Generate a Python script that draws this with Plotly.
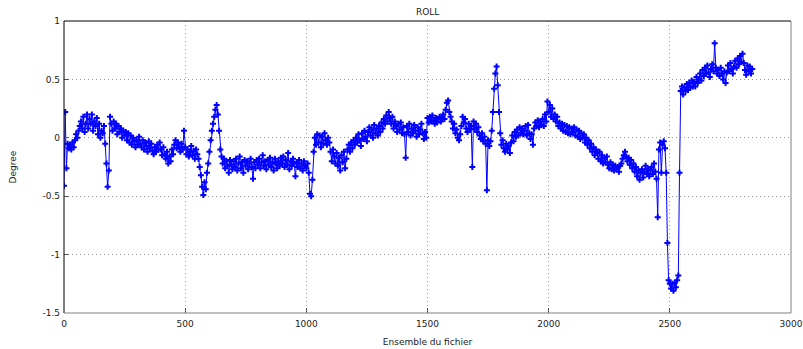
import plotly.graph_objects as go

# Roll (degrees), one value every 5 ensembles, starting at ensemble 0
roll_0000 = [-0.41, 0.22, -0.26, -0.05, -0.09, -0.06, -0.10, -0.04, -0.08, -0.02, 0.03, 0.00, 0.06, 0.10, 0.14, 0.08, 0.18, 0.05, 0.12, 0.20]
roll_0100 = [0.08, 0.16, 0.12, 0.20, 0.06, 0.14, 0.10, 0.17, 0.03, 0.12, 0.00, 0.06, 0.04, 0.10, -0.05, -0.22, -0.42, -0.28, 0.18, 0.12]
roll_0200 = [0.06, 0.14, 0.08, 0.12, 0.03, 0.10, 0.05, 0.08, 0.00, 0.06, 0.02, 0.05, -0.02, 0.04, -0.04, 0.02, -0.06, 0.00, -0.03, -0.08]
roll_0300 = [-0.02, -0.06, 0.01, -0.05, -0.08, -0.02, -0.10, -0.04, -0.07, -0.12, -0.03, -0.09, -0.05, -0.11, -0.14, -0.08, -0.12, -0.06, -0.10, -0.04]
roll_0400 = [-0.10, -0.15, -0.08, -0.14, -0.18, -0.12, -0.22, -0.16, -0.20, -0.10, -0.14, -0.06, -0.02, -0.09, -0.04, -0.08, -0.12, -0.05, -0.10, 0.06]
roll_0500 = [-0.08, -0.14, -0.10, -0.16, -0.12, -0.07, -0.15, -0.11, -0.18, -0.10, -0.14, -0.18, -0.25, -0.32, -0.42, -0.49, -0.38, -0.44, -0.30, -0.22]
roll_0600 = [-0.12, -0.02, 0.06, 0.12, 0.18, 0.24, 0.28, 0.20, 0.06, -0.10, -0.16, -0.22, -0.18, -0.26, -0.20, -0.24, -0.30, -0.19, -0.23, -0.27]
roll_0700 = [-0.20, -0.25, -0.18, -0.28, -0.22, -0.16, -0.26, -0.21, -0.30, -0.19, -0.24, -0.20, -0.27, -0.22, -0.18, -0.25, -0.35, -0.21, -0.26, -0.19]
roll_0800 = [-0.23, -0.18, -0.26, -0.21, -0.15, -0.24, -0.20, -0.27, -0.19, -0.23, -0.17, -0.25, -0.21, -0.28, -0.18, -0.22, -0.26, -0.20, -0.24, -0.17]
roll_0900 = [-0.22, -0.16, -0.25, -0.19, -0.23, -0.13, -0.27, -0.20, -0.24, -0.18, -0.22, -0.33, -0.21, -0.25, -0.19, -0.26, -0.22, -0.28, -0.20, -0.24]
roll_1000 = [-0.26, -0.22, -0.30, -0.48, -0.50, -0.36, -0.12, 0.00, -0.06, 0.03, -0.04, 0.02, -0.08, 0.01, -0.05, 0.04, -0.02, -0.06, 0.00, -0.04]
roll_1100 = [-0.12, -0.20, -0.10, -0.16, -0.22, -0.13, -0.24, -0.17, -0.28, -0.15, -0.21, -0.12, -0.26, -0.18, -0.10, -0.06, -0.12, -0.04, -0.09, -0.02]
roll_1200 = [-0.06, 0.00, -0.04, 0.03, -0.02, -0.07, 0.04, -0.01, 0.06, 0.01, -0.03, 0.05, 0.09, 0.02, 0.07, 0.00, 0.11, 0.04, 0.08, 0.02]
roll_1300 = [0.10, 0.05, 0.13, 0.08, 0.16, 0.12, 0.19, 0.14, 0.22, 0.17, 0.12, 0.18, 0.08, 0.14, 0.10, 0.05, 0.12, 0.07, 0.13, 0.04]
roll_1400 = [0.09, 0.03, -0.17, 0.10, 0.05, 0.12, 0.02, 0.08, 0.04, 0.11, 0.06, 0.01, 0.09, 0.03, 0.07, 0.12, 0.04, -0.01, 0.05, 0.00]
roll_1500 = [0.17, 0.13, 0.18, 0.14, 0.19, 0.15, 0.12, 0.17, 0.13, 0.16, 0.18, 0.14, 0.17, 0.20, 0.16, 0.24, 0.30, 0.32, 0.22, 0.18]
roll_1600 = [0.14, 0.08, 0.12, 0.04, 0.07, 0.00, -0.02, 0.03, 0.10, 0.18, 0.13, 0.16, 0.08, 0.05, 0.12, 0.07, 0.10, -0.25, 0.14, 0.08]
roll_1700 = [0.12, 0.05, 0.09, 0.02, -0.01, 0.04, -0.03, 0.01, -0.05, -0.45, -0.02, -0.07, -0.03, 0.06, 0.22, 0.42, 0.55, 0.61, 0.45, 0.22]
roll_1800 = [0.04, -0.06, -0.02, -0.09, -0.12, -0.05, -0.10, -0.07, -0.13, -0.04, 0.02, -0.03, 0.05, 0.01, 0.07, 0.02, 0.09, 0.04, 0.08, 0.03]
roll_1900 = [0.06, 0.10, 0.02, 0.11, 0.04, -0.01, 0.03, -0.06, 0.08, 0.13, 0.10, 0.15, 0.09, 0.14, 0.11, 0.16, 0.10, 0.20, 0.14, 0.31]
roll_2000 = [0.22, 0.28, 0.18, 0.25, 0.16, 0.20, 0.14, 0.18, 0.10, 0.13, 0.08, 0.12, 0.06, 0.11, 0.05, 0.10, 0.04, 0.09, 0.03, 0.08]
roll_2100 = [0.05, 0.09, 0.02, 0.07, 0.01, 0.06, -0.01, 0.04, 0.00, 0.03, -0.04, 0.00, -0.06, -0.02, -0.09, -0.05, -0.12, -0.08, -0.15, -0.10]
roll_2200 = [-0.13, -0.18, -0.12, -0.20, -0.15, -0.22, -0.17, -0.21, -0.16, -0.23, -0.26, -0.21, -0.27, -0.23, -0.28, -0.24, -0.27, -0.25, -0.29, -0.24]
roll_2300 = [-0.22, -0.18, -0.15, -0.12, -0.16, -0.20, -0.17, -0.23, -0.19, -0.26, -0.22, -0.29, -0.25, -0.33, -0.28, -0.36, -0.30, -0.27, -0.34, -0.29]
roll_2400 = [-0.24, -0.31, -0.27, -0.33, -0.28, -0.25, -0.31, -0.22, -0.29, -0.35, -0.68, -0.10, -0.04, -0.30, -0.06, -0.03, -0.09, -0.30, -0.90, -1.22]
roll_2500 = [-1.25, -1.29, -1.25, -1.31, -1.24, -1.28, -1.22, -1.18, -0.30, 0.40, 0.44, 0.37, 0.43, 0.40, 0.46, 0.41, 0.47, 0.43, 0.49, 0.44]
roll_2600 = [0.48, 0.44, 0.52, 0.47, 0.50, 0.55, 0.49, 0.58, 0.53, 0.60, 0.55, 0.62, 0.56, 0.52, 0.59, 0.63, 0.57, 0.81, 0.60, 0.55]
roll_2700 = [0.58, 0.53, 0.60, 0.55, 0.50, 0.57, 0.47, 0.56, 0.62, 0.57, 0.64, 0.59, 0.55, 0.61, 0.66, 0.60, 0.68, 0.63, 0.70, 0.65]
roll_2800 = [0.72, 0.64, 0.58, 0.54, 0.62, 0.57, 0.61, 0.55, 0.59]

roll = (roll_0000 + roll_0100 + roll_0200 + roll_0300 + roll_0400 + roll_0500 + roll_0600
        + roll_0700 + roll_0800 + roll_0900 + roll_1000 + roll_1100 + roll_1200 + roll_1300
        + roll_1400 + roll_1500 + roll_1600 + roll_1700 + roll_1800 + roll_1900 + roll_2000
        + roll_2100 + roll_2200 + roll_2300 + roll_2400 + roll_2500 + roll_2600 + roll_2700
        + roll_2800)
ensemble_step = 5
ensemble = [i * ensemble_step for i in range(len(roll))]

x_ticks = [0, 500, 1000, 1500, 2000, 2500, 3000]
y_ticks = [-1.5, -1, -0.5, 0, 0.5, 1]
y_tick_labels = ["-1.5", "-1", "-0.5", "0", "0.5", "1"]

font = dict(family="DejaVu Sans", size=9, color="#222222")
grid = dict(showgrid=True, gridcolor="#999999", griddash="1px,3px", gridwidth=1,
            zeroline=False, ticks="inside", ticklen=5, tickcolor="#555555",
            showline=False, automargin=False)

fig = go.Figure()
fig.add_trace(go.Scatter(
    x=ensemble, y=roll, mode="lines+markers",
    line=dict(color="#0000ff", width=1),
    marker=dict(symbol="cross", size=5, color="#0000ff"),
    showlegend=False,
))

fig.update_layout(
    width=803, height=349,
    margin=dict(l=64, r=12, t=21, b=36),
    plot_bgcolor="white", paper_bgcolor="white",
    font=font,
    title=dict(text="ROLL", x=0.5325, xanchor="center", y=0.965, yanchor="middle",
               font=font),
    xaxis=dict(range=[0, 3000], tickvals=x_ticks, ticklabelstandoff=4,
               title=dict(text="Ensemble du fichier", standoff=10, font=font), **grid),
    yaxis=dict(range=[-1.5, 1], tickvals=y_ticks, ticktext=y_tick_labels,
               ticklabelstandoff=3,
               title=dict(text="Degree", standoff=24, font=font), **grid),
    shapes=[
        dict(type="line", xref="paper", yref="paper", x0=0, x1=1, y0=1, y1=1,
             line=dict(color="#000000", width=1)),
        dict(type="line", xref="paper", yref="paper", x0=0, x1=0, y0=0, y1=1,
             line=dict(color="#000000", width=1)),
        dict(type="line", xref="paper", yref="paper", x0=0, x1=1, y0=0, y1=0,
             line=dict(color="#808080", width=1)),
        dict(type="line", xref="paper", yref="paper", x0=1, x1=1, y0=0, y1=1,
             line=dict(color="#808080", width=1)),
    ],
)

fig.write_html("out.html")
